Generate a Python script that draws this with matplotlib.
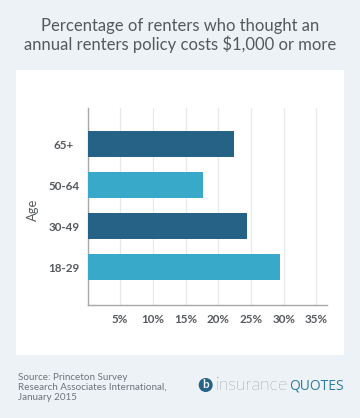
import matplotlib

matplotlib.use('Agg')
import matplotlib.pyplot as plt
from matplotlib.patches import Circle, Rectangle

plt.rcParams['font.family'] = ['Lato', 'DejaVu Sans']

ages = ['18-29', '30-49', '50-64', '65+']
values = [29.4, 24.4, 17.7, 22.4]
ticks = [5, 10, 15, 20, 25, 30, 35]
tick_labels = ['5%', '10%', '15%', '20%', '25%', '30%', '35%']

W, H = 360, 418
BG = '#edf2f6'
fig = plt.figure(figsize=(W / 100, H / 100), dpi=100, facecolor=BG)


def px_axes(x0, y0, x1, y1):
    # pixel box measured from the top left
    return fig.add_axes([x0 / W, 1 - y1 / H, (x1 - x0) / W, (y1 - y0) / H])


# overlay in pixels for panel, title and footer
bg = fig.add_axes([0, 0, 1, 1], facecolor='none')
bg.set_xlim(0, W)
bg.set_ylim(H, 0)
bg.axis('off')
bg.add_patch(Rectangle((16, 70), 328, 285, facecolor='white', edgecolor='none'))

bg.text(180, 25.5, 'Percentage of renters who thought an', ha='center', va='center',
        fontsize=12, color='#55595e')
bg.text(180, 44.5, 'annual renters policy costs $1,000 or more', ha='center', va='center',
        fontsize=12, color='#55595e')

# ========== bars ==========
ax = px_axes(87.5, 108, 326.5, 304.5)
ax.set_facecolor('none')
cols = ['#38a9c9', '#256286', '#38a9c9', '#256286']
ax.barh(range(len(ages)), values, height=0.634, color=cols, zorder=3)
ax.set_xlim(0, 36.55)
ax.set_ylim(-0.915, 3.88)
ax.set_xticks(ticks)
ax.set_xticklabels(tick_labels, fontsize=8.4, fontweight='bold', color='#55595e')
ax.set_yticks(range(len(ages)))
ax.set_yticklabels(ages, fontsize=8.4, fontweight='bold', color='#55595e', ha='center')
ax.tick_params(axis='x', length=0, pad=7)
ax.tick_params(axis='y', length=0, pad=23.5 * 0.72)
ax.grid(axis='x', color='#e6e9ec', lw=0.9, zorder=0)
ax.set_axisbelow(True)
for s in ['top', 'right']:
    ax.spines[s].set_visible(False)
for s in ['left', 'bottom']:
    ax.spines[s].set_color('#a6a8aa')
    ax.spines[s].set_linewidth(1)

bg.text(33, 210, 'Age', rotation=90, ha='center', va='center', fontsize=9.4, color='#55595e')

# ========== footer ==========
for y, line in zip([377, 387, 397], ['Source: Princeton Survey',
                                     'Research Associates International,',
                                     'January 2015']):
    bg.text(17.5, y, line, ha='left', va='center', fontsize=7.1, color='#6d7378')

bg.add_patch(Circle((205.7, 385), 7, facecolor='#256286', edgecolor='none'))
bg.text(205.7, 385, 'b', ha='center', va='center', fontsize=8.5, fontweight='bold', color=BG)
bg.text(216, 385, 'insurance', ha='left', va='center', fontsize=12.8, fontweight='light',
        color='#50555a')
bg.text(344, 385.5, 'QUOTES', ha='right', va='center', fontsize=10, color='#2f7d9e',
        family=['Open Sans', 'DejaVu Sans'])

fig.savefig('out.png', dpi=100, facecolor=BG)
print('OK')
